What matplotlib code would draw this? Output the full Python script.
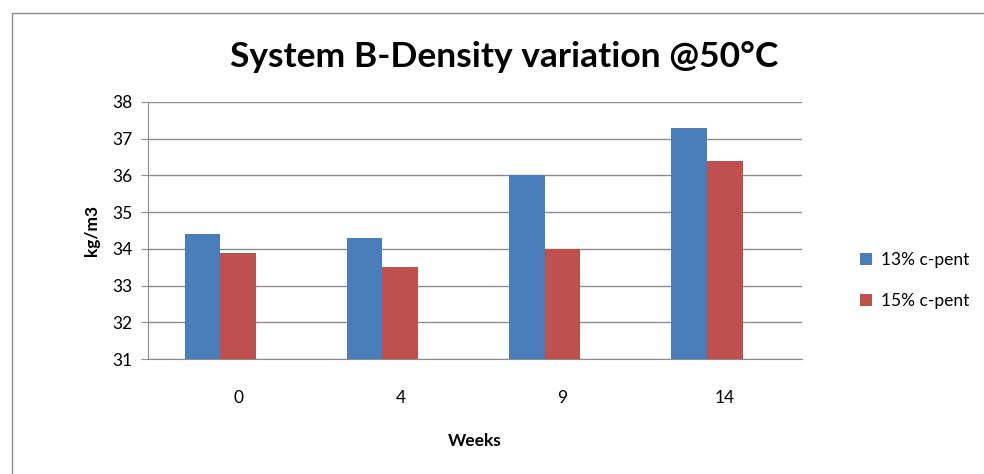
import numpy as np
import matplotlib.pyplot as plt
from matplotlib.patches import Rectangle

# data
weeks = ["0", "4", "9", "14"]
c13 = [34.4, 34.3, 36.0, 37.3]
c15 = [33.9, 33.5, 34.0, 36.4]
series_names = ["13% c-pent", "15% c-pent"]

plt.rcParams['font.family'] = ['Lato', 'DejaVu Sans']

fig = plt.figure(figsize=(9.84, 4.74), dpi=100)
# chart frame like the spreadsheet export
fig.patches.append(Rectangle((12 / 984, -0.01), 1.0, 1 - 13 / 474 + 0.01,
                             transform=fig.transFigure, fill=False,
                             edgecolor='#8c8c8c', linewidth=1.0))

ax = fig.add_axes([148 / 984, 1 - 359 / 474, (802 - 148) / 984, (359 - 102) / 474])

x = np.arange(len(weeks))
w = 0.22
# bars sit left of the category centre (an empty third series in the original)
ax.bar(x - w, c13, width=w, color='#4a7ebb', label=series_names[0], zorder=3)
ax.bar(x, c15, width=w, color='#c0504d', label=series_names[1], zorder=3)

ax.set_ylim(31, 38)
ax.set_xlim(-0.555, 3.475)
ax.set_yticks(range(31, 39))
ax.set_xticks(x)
ax.set_xticklabels(weeks)
ax.yaxis.grid(True, color='#8c8c8c', linewidth=1.0, zorder=0)
ax.set_axisbelow(True)

for s in ['top', 'right']:
    ax.spines[s].set_visible(False)
ax.spines['left'].set_color('#8c8c8c')
ax.spines['bottom'].set_color('#8c8c8c')
ax.tick_params(axis='y', length=5, color='#8c8c8c', labelsize=12.5, pad=6)
ax.tick_params(axis='x', length=0, labelsize=12.5, pad=22)

ax.set_xlabel("Weeks", fontsize=12.5, fontweight='bold', labelpad=20)
ax.set_ylabel("kg/m3", fontsize=12.5, fontweight='bold', labelpad=9)

fig.text(504 / 984, 1 - 57 / 474, "System B-Density variation @50°C",
         ha='center', va='center', fontsize=25.5, fontweight='bold')

ax.legend(loc='center left', bbox_to_anchor=(1.065, 0.305), frameon=False,
          fontsize=12.5, handlelength=0.7, handleheight=0.7, labelspacing=1.4,
          handletextpad=0.5)

fig.savefig("out.png", dpi=100)
